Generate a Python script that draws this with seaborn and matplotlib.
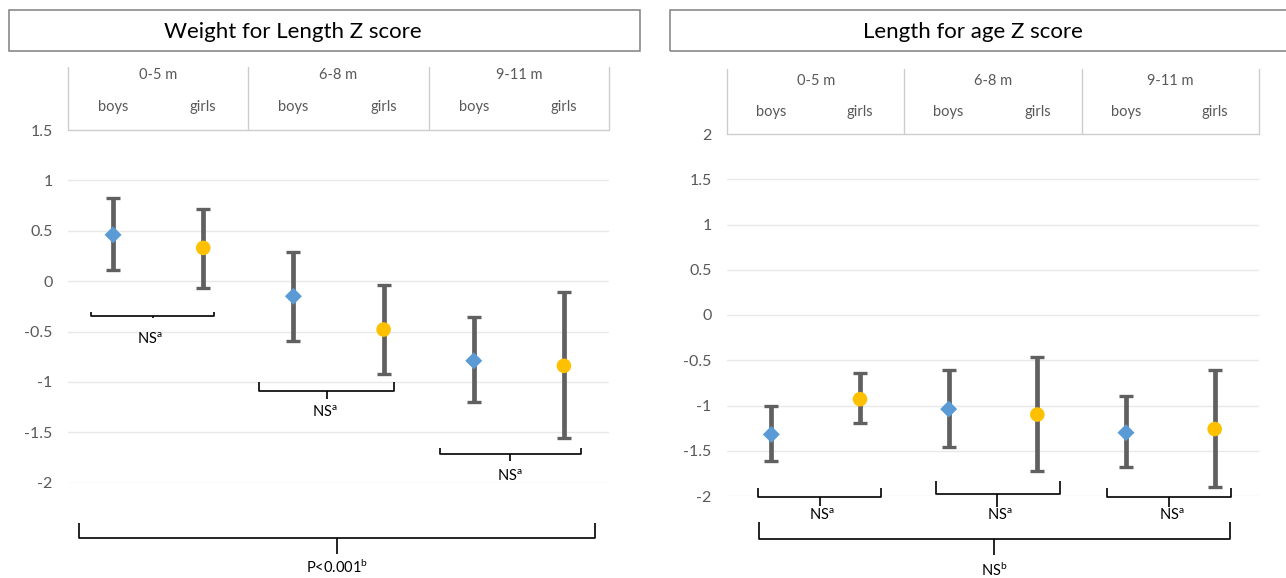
import pandas as pd
import seaborn as sns
import matplotlib.pyplot as plt
from matplotlib.patches import Rectangle

# values
groups = ['0-5 m', '6-8 m', '9-11 m']
sexes = ['boys', 'girls']

wlz_mean = [0.46, 0.33, -0.15, -0.48, -0.79, -0.84]
wlz_low = [0.11, -0.07, -0.59, -0.92, -1.20, -1.56]
wlz_high = [0.83, 0.72, 0.29, -0.04, -0.36, -0.11]

laz_mean = [-1.32, -0.93, -1.04, -1.10, -1.30, -1.26]
laz_low = [-1.61, -1.19, -1.46, -1.72, -1.68, -1.90]
laz_high = [-1.01, -0.64, -0.61, -0.46, -0.90, -0.61]

wlz_ticks = [-2, -1.5, -1, -0.5, 0, 0.5, 1, 1.5]
laz_ticks = [-2, -1.5, -1, -0.5, 0, 0.5, 1, 1.5, 2]

BLUE = '#5B9BD5'
ORANGE = '#FFC000'
BAR = '#606060'
TXT = '#595959'

sns.set_theme(style='white')
plt.rcParams['font.family'] = ['Lato', 'DejaVu Sans']
plt.rcParams['mathtext.fontset'] = 'custom'
plt.rcParams['mathtext.rm'] = 'Lato'
plt.rcParams['mathtext.it'] = 'Lato:italic'


def make_df(mean, low, high):
    rows = []
    for i, g in enumerate(groups):
        for j, s in enumerate(sexes):
            k = i * 2 + j
            rows.append({'pos': k, 'group': g, 'sex': s,
                         'mean': mean[k], 'low': low[k], 'high': high[k]})
    return pd.DataFrame(rows)


def bracket(ax, x0, x1, xc, y_end, y_h, y_tick, tx, ty, label):
    kw = dict(color='black', lw=1.2, clip_on=False, solid_capstyle='butt')
    ax.plot([x0, x0, x1, x1], [y_end, y_h, y_h, y_end], **kw)
    ax.plot([xc, xc], [y_h, y_tick], **kw)
    ax.text(tx, ty, label, ha='center', va='center', fontsize=10.5, color='black')


def draw_panel(ax, df, ticks, head_top, head_grp, head_sub, brackets):
    ymin, ymax = ticks[0], ticks[-1]
    ax.errorbar(df['pos'], df['mean'],
                yerr=[df['mean'] - df['low'], df['high'] - df['mean']],
                fmt='none', ecolor=BAR, elinewidth=3.4, capsize=5, capthick=2.4,
                zorder=2, clip_on=False)
    sns.scatterplot(data=df, x='pos', y='mean', hue='sex', style='sex', size='sex',
                    palette={'boys': BLUE, 'girls': ORANGE},
                    markers={'boys': 'D', 'girls': 'o'},
                    sizes={'boys': 75, 'girls': 110},
                    edgecolor='none', legend=False, zorder=3, clip_on=False, ax=ax)
    ax.set_xlim(-0.5, 5.5)
    ax.set_ylim(ymin, ymax)
    ax.set_yticks(ticks)
    ax.set_yticklabels([f'{t:g}' for t in ticks])
    ax.tick_params(axis='y', length=0, pad=11, labelsize=11.5, labelcolor=TXT)
    ax.set_xticks([])
    ax.set_xlabel('')
    ax.set_ylabel('')
    for sp in ax.spines.values():
        sp.set_visible(False)
    for t in ticks[:-1]:
        ax.axhline(t, color='#E8E8E8', lw=1, zorder=0)

    # category header above the plot
    hl = dict(color='#CDCDCD', lw=1, clip_on=False)
    ax.plot([-0.5, 5.5], [ymax, ymax], **hl)
    for xb in [-0.5, 1.5, 3.5, 5.5]:
        ax.plot([xb, xb], [ymax, head_top], **hl)
    for i, g in enumerate(groups):
        ax.text(2 * i + 0.5, head_grp, g, ha='center', va='center',
                fontsize=10.5, color=TXT)
        for j, s in enumerate(sexes):
            ax.text(2 * i + j, head_sub, s, ha='center', va='center',
                    fontsize=10.5, color=TXT)

    for b in brackets:
        bracket(ax, *b)


fig = plt.figure(figsize=(12.86, 5.78), dpi=100)

ax1 = fig.add_axes([68 / 1286, 1 - 482.7 / 578, 541 / 1286, 352.7 / 578])
ax2 = fig.add_axes([727 / 1286, 1 - 496 / 578, 532 / 1286, 362 / 578])

wlz_brackets = [
    (-0.245, 1.119, 0.443, -0.308, -0.342, -0.368, 0.41, -0.577, r'NS$^{\mathrm{a}}$'),
    (1.618, 3.115, 2.372, -1.002, -1.092, -1.171, 2.35, -1.307, r'NS$^{\mathrm{a}}$'),
    (3.626, 5.189, 4.402, -1.656, -1.715, -1.781, 4.40, -1.937, r'NS$^{\mathrm{a}}$'),
    (-0.378, 5.345, 2.483, -2.402, -2.551, -2.710, 2.48, -2.843, r'P<0.001$^{\mathrm{b}}$'),
]
laz_brackets = [
    (-0.147, 1.233, 0.545, -1.908, -2.015, -2.107, 0.571, -2.217, r'NS$^{\mathrm{a}}$'),
    (1.854, 3.252, 2.545, -1.834, -1.978, -2.125, 2.579, -2.217, r'NS$^{\mathrm{a}}$'),
    (3.790, 5.180, 4.483, -1.908, -2.015, -2.125, 4.519, -2.217, r'NS$^{\mathrm{a}}$'),
    (-0.142, 5.170, 2.510, -2.284, -2.478, -2.651, 2.51, -2.817, r'NS$^{\mathrm{b}}$'),
]

draw_panel(ax1, make_df(wlz_mean, wlz_low, wlz_high), wlz_ticks,
           2.125, 2.043, 1.725, wlz_brackets)
draw_panel(ax2, make_df(laz_mean, laz_low, laz_high), laz_ticks,
           2.713, 2.591, 2.242, laz_brackets)

# title boxes
for x0, x1, xt, title in [(9, 640, 293, 'Weight for Length Z score'),
                          (670, 1300, 973, 'Length for age Z score')]:
    fig.patches.append(Rectangle((x0 / 1286, 1 - 50.5 / 578), (x1 - x0) / 1286, 40.5 / 578,
                                 transform=fig.transFigure, fill=False,
                                 edgecolor='#808080', lw=1.1))
    fig.text(xt / 1286, 1 - 31.5 / 578, title, ha='center', va='center',
             fontsize=16, color='black')

fig.savefig('out.png', dpi=100)
